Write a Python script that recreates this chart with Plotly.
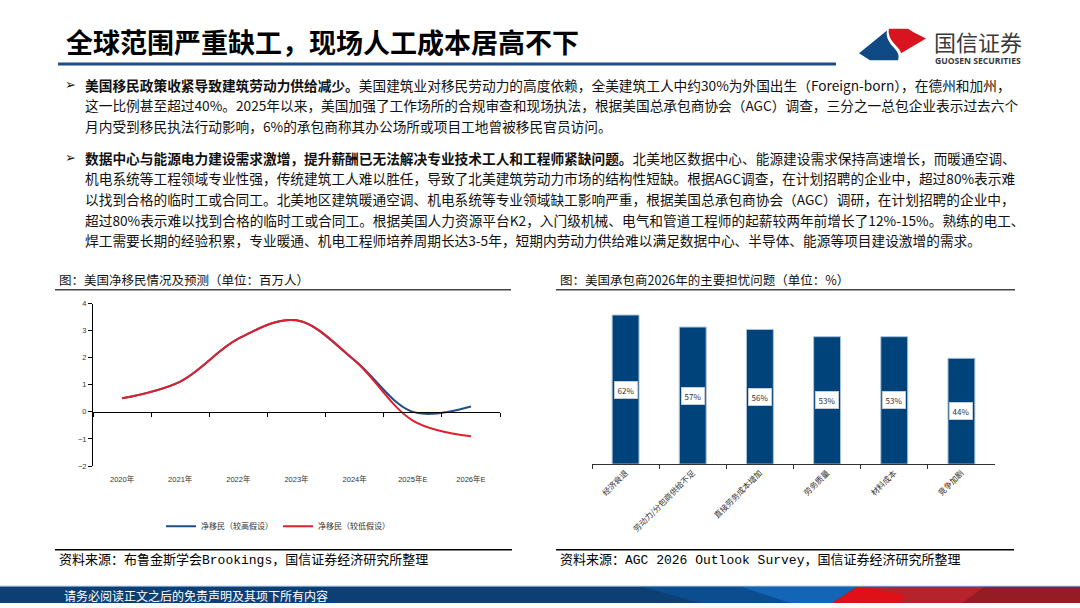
import plotly.graph_objects as go

# ---------------- 数据 ----------------
years = ["2020年", "2021年", "2022年", "2023年", "2024年", "2025年E", "2026年E"]
net_high = [0.5, 1.12, 2.7, 3.38, 1.9, 0.0, 0.2]     # 净移民（较高假设）
net_low = [0.5, 1.12, 2.7, 3.38, 1.9, -0.32, -0.9]   # 净移民（较低假设）

concerns = ["经济衰退", "劳动力/分包商供给不足", "直接劳务成本增加", "劳务质量", "材料成本", "竞争加剧"]
concern_pct = [62, 57, 56, 53, 53, 44]

title = "全球范围严重缺工，现场人工成本居高不下"
bullet1 = [
    "<b>美国移民政策收紧导致建筑劳动力供给减少。</b>美国建筑业对移民劳动力的高度依赖，全美建筑工人中约30%为外国出生（Foreign-born），在德州和加州，",
    "这一比例甚至超过40%。2025年以来，美国加强了工作场所的合规审查和现场执法，根据美国总承包商协会（AGC）调查，三分之一总包企业表示过去六个",
    "月内受到移民执法行动影响，6%的承包商称其办公场所或项目工地曾被移民官员访问。",
]
bullet2 = [
    "<b>数据中心与能源电力建设需求激增，提升薪酬已无法解决专业技术工人和工程师紧缺问题。</b>北美地区数据中心、能源建设需求保持高速增长，而暖通空调、",
    "机电系统等工程领域专业性强，传统建筑工人难以胜任，导致了北美建筑劳动力市场的结构性短缺。根据AGC调查，在计划招聘的企业中，超过80%表示难",
    "以找到合格的临时工或合同工。北美地区建筑暖通空调、机电系统等专业领域缺工影响严重，根据美国总承包商协会（AGC）调研，在计划招聘的企业中，",
    "超过80%表示难以找到合格的临时工或合同工。根据美国人力资源平台K2，入门级机械、电气和管道工程师的起薪较两年前增长了12%-15%。熟练的电工、",
    "焊工需要长期的经验积累，专业暖通、机电工程师培养周期长达3-5年，短期内劳动力供给难以满足数据中心、半导体、能源等项目建设激增的需求。",
]
left_title = "图：美国净移民情况及预测（单位：百万人）"
right_title = "图：美国承包商2026年的主要担忧问题（单位：%）"
left_source = "资料来源：布鲁金斯学会Brookings，国信证券经济研究所整理"
right_source = "资料来源：AGC 2026 Outlook Survey，国信证券经济研究所整理"
footer = "请务必阅读正文之后的免责声明及其项下所有内容"

W, H = 1080, 608
CJK = "Noto Sans CJK SC"
MONO = "Liberation Mono, Noto Sans CJK SC"
BLUE = "#1f4e86"
RED = "#e1202e"
BAR = "#00427a"


def px(x):
    return x / W


def py(y):
    return 1 - y / H


fig = go.Figure()

# 左图：净移民折线
fig.add_trace(go.Scatter(
    x=years, y=net_high, mode="lines", name="净移民（较高假设）",
    line=dict(color=BLUE, width=2, shape="spline", smoothing=1.0),
    xaxis="x", yaxis="y",
))
fig.add_trace(go.Scatter(
    x=years, y=net_low, mode="lines", name="净移民（较低假设）",
    line=dict(color=RED, width=2, shape="spline", smoothing=1.0),
    xaxis="x", yaxis="y",
))

# 右图：担忧问题柱状图
fig.add_trace(go.Bar(
    x=concerns, y=concern_pct, width=0.4, showlegend=False,
    marker=dict(color=BAR, line=dict(color="#a9c0da", width=1)),
    xaxis="x2", yaxis="y2",
))

annotations = []

# 柱内数值标签（白色方框）
for c, v in zip(concerns, concern_pct):
    annotations.append(dict(
        x=c, y=v / 2, xref="x2", yref="y2", text=f"{v}%", showarrow=False,
        font=dict(family=CJK, size=8, color="#333333"),
        bgcolor="white", bordercolor="#c8c8c8", borderwidth=0.5, borderpad=3,
    ))

# 标题与正文
annotations.append(dict(
    x=px(64), y=py(38), xref="paper", yref="paper", xanchor="left", yanchor="middle",
    text=f"<b>{title}</b>", showarrow=False, font=dict(family=CJK, size=27, color="#000000"),
))
for i, line in enumerate(bullet1):
    annotations.append(dict(
        x=px(83), y=py(82 + 21 * i), xref="paper", yref="paper", xanchor="left", yanchor="middle",
        text=line, showarrow=False, font=dict(family=CJK, size=13.7, color="#111111"),
    ))
for i, line in enumerate(bullet2):
    annotations.append(dict(
        x=px(83), y=py(156 + 21 * i), xref="paper", yref="paper", xanchor="left", yanchor="middle",
        text=line, showarrow=False, font=dict(family=CJK, size=13.7, color="#111111"),
    ))
for yb in (82, 156):
    annotations.append(dict(
        x=px(63), y=py(yb), xref="paper", yref="paper", xanchor="left", yanchor="middle",
        text="➢", showarrow=False, font=dict(family="DejaVu Sans", size=13, color="#111111"),
    ))

# 图标题与资料来源
for txt, x0, yy in ((left_title, 57, 280), (right_title, 558, 280)):
    annotations.append(dict(
        x=px(x0), y=py(yy), xref="paper", yref="paper", xanchor="left", yanchor="middle",
        text=txt, showarrow=False, font=dict(family=CJK, size=12.5, color="#111111"),
    ))
for txt, x0 in ((left_source, 57), (right_source, 558)):
    annotations.append(dict(
        x=px(x0), y=py(564), xref="paper", yref="paper", xanchor="left", yanchor="middle",
        text=txt, showarrow=False, font=dict(family=MONO, size=13, color="#000000"),
    ))

# 页脚文字
annotations.append(dict(
    x=px(62), y=py(600), xref="paper", yref="paper", xanchor="left", yanchor="middle",
    text=footer, showarrow=False, font=dict(family=CJK, size=12, color="white"),
))

# logo 文字
annotations.append(dict(
    x=px(932), y=py(38), xref="paper", yref="paper", xanchor="left", yanchor="middle",
    text="国信证券", showarrow=False, font=dict(family=CJK, size=22, color="#3a3a3a"),
))
annotations.append(dict(
    x=px(933), y=py(58), xref="paper", yref="paper", xanchor="left", yanchor="middle",
    text="<b>GUOSEN SECURITIES</b>", showarrow=False, font=dict(family="Open Sans", size=8.6, color="#3a3a3a"),
))

shapes = []
def line(x0, y0, x1, y1, color, width):
    shapes.append(dict(type="line", xref="paper", yref="paper", x0=px(x0), y0=py(y0),
                       x1=px(x1), y1=py(y1), line=dict(color=color, width=width)))

def poly(points, color):
    d = "M " + " L ".join(f"{px(a)},{py(b)}" for a, b in points) + " Z"
    shapes.append(dict(type="path", xref="paper", yref="paper", path=d,
                       fillcolor=color, line=dict(width=0), layer="above"))

# 标题下划线
line(58, 61, 836, 61, BLUE, 3)
# 图标题下划线、资料来源上划线
line(55, 290, 511, 290, "#444444", 1.5)
line(556, 290, 1015, 290, "#444444", 1.5)
line(55, 554, 512, 554, "#000000", 1.5)
line(556, 554, 1014, 554, "#000000", 1.5)

# 页脚色带
poly([(0, 591), (1080, 591), (1080, 608), (0, 608)], "#0c3f74")
poly([(640, 591), (858, 591), (832, 608), (700, 608)], "#0a4e90")
poly([(740, 591), (858, 591), (832, 608), (790, 608)], "#1366b6")
poly([(858, 591), (1080, 591), (1080, 608), (832, 608)], "#b5232c")
poly([(858, 591), (905, 600), (900, 608), (832, 608)], "#e01019")
poly([(985, 591), (1080, 591), (1080, 608), (962, 608)], "#941d25")
line(0, 591, 1080, 591, "#7fa6d2", 1)

# logo 图形
shapes.append(dict(type="path", xref="paper", yref="paper", layer="above",
                   path=f"M {px(859)},{py(50)} L {px(887)},{py(27)} "
                        f"C {px(885)},{py(36)} {px(892)},{py(42)} {px(896)},{py(47)} "
                        f"C {px(899)},{py(51)} {px(899)},{py(54)} {px(898)},{py(57)} "
                        f"L {px(870)},{py(57)} Z",
                   fillcolor="#0f4a84", line=dict(width=0)))
shapes.append(dict(type="path", xref="paper", yref="paper", layer="above",
                   path=f"M {px(889)},{py(25)} L {px(908)},{py(25)} L {px(914)},{py(29)} "
                        f"L {px(926)},{py(35)} L {px(901)},{py(50)} "
                        f"C {px(900)},{py(45)} {px(894)},{py(41)} {px(891)},{py(36)} "
                        f"C {px(889)},{py(32)} {px(888)},{py(28)} {px(889)},{py(25)} Z",
                   fillcolor="#d7141f", line=dict(width=0)))

axis_font = dict(family="Liberation Sans, Noto Sans CJK SC", size=7.5, color="#333333")

fig.update_layout(
    width=W, height=H, autosize=False,
    margin=dict(l=0, r=0, t=0, b=0),
    paper_bgcolor="white", plot_bgcolor="white",
    showlegend=True,
    legend=dict(orientation="h", x=px(278), y=py(530), xanchor="center", yanchor="middle",
                font=dict(family=CJK, size=8, color="#333333"), itemwidth=30,
                bgcolor="rgba(0,0,0,0)"),
    xaxis=dict(
        domain=[px(93), px(500)], type="category", range=[-0.5, 6.5],
        anchor="free", position=py(414),
        showline=True, linecolor="#000000", linewidth=1,
        ticks="outside", tickson="boundaries", ticklen=4, tickcolor="#000000",
        ticklabelstandoff=60, tickfont=axis_font, showgrid=False, zeroline=False,
    ),
    yaxis=dict(
        domain=[py(469), py(304)], range=[-2, 4], dtick=1,
        anchor="x", showline=True, linecolor="#000000", linewidth=1,
        ticks="outside", ticklen=4, tickcolor="#000000",
        tickfont=axis_font, showgrid=False, zeroline=False,
    ),
    xaxis2=dict(
        domain=[px(592), px(995)], type="category", range=[-0.5, 5.5],
        anchor="y2", showline=True, linecolor="#333333", linewidth=1.2,
        ticks="outside", tickson="boundaries", ticklen=4, tickcolor="#333333",
        tickangle=-45, tickfont=dict(family=CJK, size=8, color="#333333"),
        showgrid=False, zeroline=False,
    ),
    yaxis2=dict(
        domain=[py(467), py(296.2)], range=[0, 70], anchor="x2",
        visible=False,
    ),
    annotations=annotations,
    shapes=shapes,
)

# 去掉页面默认边距，使图表与窗口对齐
fig.write_html(
    "out.html",
    config={"displayModeBar": False},
    post_script="document.body.style.margin='0';document.body.style.overflow='hidden';",
)
